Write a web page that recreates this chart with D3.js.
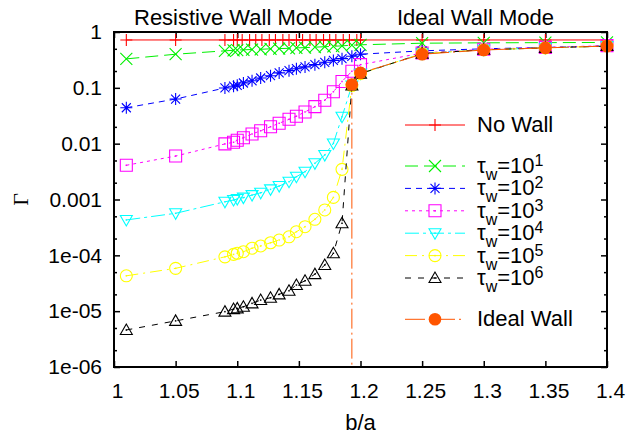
<!DOCTYPE html>
<html><head><meta charset="utf-8">
<script src="https://cdn.jsdelivr.net/npm/d3@7"></script>
<style>
body{margin:0;background:#fff;}
svg text{font-family:"Liberation Sans",Arial,Helvetica,sans-serif;fill:#000;}
</style></head><body>
<svg id="chart" width="628" height="434"></svg>
<script>
// ---------------- data ----------------
const xTicks = [1, 1.05, 1.1, 1.15, 1.2, 1.25, 1.3, 1.35, 1.4];
const xTickLabels = ["1", "1.05", "1.1", "1.15", "1.2", "1.25", "1.3", "1.35", "1.4"];
const yTicks = [1, 0.1, 0.01, 0.001, 1e-4, 1e-5, 1e-6];
const yTickLabels = ["1", "0.1", "0.01", "0.001", "1e-04", "1e-05", "1e-06"];
const yMinorTicks = [0.5, 0.2, 0.05, 0.02, 0.005, 0.002, 5e-4, 2e-4, 5e-5, 2e-5, 5e-6, 2e-6];

const xNoWall = [1.01, 1.05, 1.09, 1.097, 1.1, 1.104, 1.11, 1.115, 1.12, 1.126, 1.131, 1.137, 1.142, 1.148, 1.153, 1.159, 1.164, 1.17, 1.175, 1.18, 1.186, 1.191, 1.197, 1.2, 1.25, 1.3, 1.35, 1.4];
const gNoWall = [0.72, 0.72, 0.72, 0.72, 0.72, 0.72, 0.72, 0.72, 0.72, 0.72, 0.72, 0.72, 0.72, 0.72, 0.72, 0.72, 0.72, 0.72, 0.72, 0.72, 0.72, 0.72, 0.72, 0.72, 0.72, 0.72, 0.72, 0.72];

const xRes = [1.01, 1.05, 1.09, 1.097, 1.1, 1.105, 1.112, 1.119, 1.127, 1.134, 1.142, 1.148, 1.155, 1.163, 1.171, 1.178, 1.185, 1.193, 1.2, 1.25, 1.3, 1.35, 1.4];
const gTau1 = [0.33, 0.40, 0.46, 0.47, 0.475, 0.48, 0.485, 0.49, 0.50, 0.505, 0.51, 0.52, 0.525, 0.535, 0.545, 0.555, 0.565, 0.58, 0.59, 0.63, 0.64, 0.645, 0.65];
const gTau2 = [0.044, 0.063, 0.0995, 0.107, 0.111, 0.122, 0.134, 0.150, 0.165, 0.185, 0.203, 0.22, 0.237, 0.26, 0.287, 0.31, 0.333, 0.367, 0.40, 0.46, 0.50, 0.53, 0.56];
const gTau3 = [0.0041, 0.006, 0.0099, 0.0106, 0.0115, 0.0128, 0.0149, 0.017, 0.0201, 0.0232, 0.0273, 0.031, 0.037, 0.046, 0.06, 0.085, 0.13, 0.198, 0.26, 0.42, 0.49, 0.53, 0.57];
const gTau4 = [4.3e-4, 5.66e-4, 9.1e-4, 9.8e-4, 1.02e-3, 1.08e-3, 1.2e-3, 1.32e-3, 1.52e-3, 1.74e-3, 2.08e-3, 2.56e-3, 3.15e-3, 4.45e-3, 6.26e-3, 0.0101, 0.0304, 0.11, 0.18, 0.41, 0.48, 0.52, 0.56];
const gTau5 = [4.3e-5, 5.85e-5, 9.4e-5, 1.04e-4, 1.09e-4, 1.16e-4, 1.34e-4, 1.47e-4, 1.68e-4, 1.88e-4, 2.15e-4, 2.65e-4, 3.26e-4, 4.42e-4, 6.5e-4, 1.09e-3, 3.47e-3, 0.11, 0.18, 0.41, 0.48, 0.52, 0.56];
const gTau6 = [4.6e-6, 6.7e-6, 9.8e-6, 1.09e-5, 1.12e-5, 1.2e-5, 1.38e-5, 1.58e-5, 1.74e-5, 2.0e-5, 2.32e-5, 2.94e-5, 3.5e-5, 4.6e-5, 6.7e-5, 1.09e-4, 3.75e-4, 0.11, 0.18, 0.41, 0.48, 0.52, 0.56];

const xIdeal = [1.193, 1.193, 1.2, 1.25, 1.3, 1.35, 1.4];
const gIdeal = [1e-8, 0.115, 0.185, 0.40, 0.476, 0.52, 0.56];

const tauExponents = ["1", "2", "3", "4", "5", "6"];
const titles = ["Resistive Wall Mode", "Ideal Wall Mode"];

// ---------------- layout ----------------
const W = 628, H = 434;
const M = {l: 114, r: 607, t: 32, b: 367};
const x = d3.scaleLinear().domain([1, 1.4]).range([M.l, M.r]);
const y = d3.scaleLog().domain([1e-6, 1]).range([M.b, M.t]);
const FONT = '"Liberation Sans", Arial, Helvetica, sans-serif';

const svg = d3.select("#chart");
svg.append("rect").attr("width", W).attr("height", H).attr("fill", "#fff");
svg.append("defs").append("clipPath").attr("id", "clip")
  .append("rect").attr("x", M.l).attr("y", M.t).attr("width", M.r - M.l).attr("height", M.b - M.t);

// axes
function styleAxis(g) {
  g.select(".domain").remove();
  g.attr("font-family", FONT).attr("font-size", 21);
  g.selectAll(".tick line").attr("stroke", "#000").attr("stroke-width", 1.5);
  g.selectAll(".tick text").attr("fill", "#000");
}
const gxb = svg.append("g").attr("transform", `translate(0,${M.b})`)
  .call(d3.axisBottom(x).tickValues(xTicks).tickFormat((d, i) => xTickLabels[i]).tickSizeInner(-6).tickSizeOuter(0).tickPadding(16));
styleAxis(gxb); gxb.selectAll(".tick text").attr("dx", 3);
const gxt = svg.append("g").attr("transform", `translate(0,${M.t})`)
  .call(d3.axisTop(x).tickValues(xTicks).tickFormat("").tickSizeInner(-6).tickSizeOuter(0));
styleAxis(gxt);
const gyl = svg.append("g").attr("transform", `translate(${M.l},0)`)
  .call(d3.axisLeft(y).tickValues(yTicks).tickFormat((d, i) => yTickLabels[i]).tickSizeInner(-6).tickSizeOuter(0).tickPadding(12));
styleAxis(gyl);
const gylm = svg.append("g").attr("transform", `translate(${M.l},0)`)
  .call(d3.axisLeft(y).tickValues(yMinorTicks).tickFormat("").tickSizeInner(-3).tickSizeOuter(0));
styleAxis(gylm);
const gyr = svg.append("g").attr("transform", `translate(${M.r},0)`)
  .call(d3.axisRight(y).tickValues(yTicks).tickFormat("").tickSizeInner(-6).tickSizeOuter(0));
styleAxis(gyr);
const gyrm = svg.append("g").attr("transform", `translate(${M.r},0)`)
  .call(d3.axisRight(y).tickValues(yMinorTicks).tickFormat("").tickSizeInner(-3).tickSizeOuter(0));
styleAxis(gyrm);

// markers
function markerPath(type, s) {
  const t = s * 0.75;
  switch (type) {
    case "plus": return `M${-s},0H${s}M0,${-s}V${s}`;
    case "cross": return `M${-s},${-s}L${s},${s}M${-s},${s}L${s},${-s}`;
    case "star": return `M${-s},0H${s}M0,${-s}V${s}M${-t},${-t}L${t},${t}M${-t},${t}L${t},${-t}`;
    case "square": return `M${-s},${-s}H${s}V${s}H${-s}Z`;
    case "triDown": return `M0,${s}L${-s},${-s * 0.75}L${s},${-s * 0.75}Z`;
    case "triUp": return `M0,${-s}L${-s},${s * 0.75}L${s},${s * 0.75}Z`;
    case "circle": return `M${s},0A${s},${s},0,1,1,${-s},0A${s},${s},0,1,1,${s},0Z`;
  }
  return "";
}
function drawMarker(g, type, color, cx, cy) {
  if (type === "dot") {
    g.append("circle").attr("cx", cx).attr("cy", cy).attr("r", 6.3).attr("fill", color);
    return;
  }
  g.append("path").attr("d", markerPath(type, 6)).attr("transform", `translate(${cx},${cy})`)
    .attr("fill", "none").attr("stroke", color).attr("stroke-width", 1.1);
  if (["square", "triDown", "triUp", "circle"].includes(type)) {
    g.append("rect").attr("x", cx - 0.75).attr("y", cy - 0.75).attr("width", 1.5).attr("height", 1.5).attr("fill", color);
  }
}

const series = [
  {xs: xNoWall, ys: gNoWall, color: "#ff0000", dash: null, marker: "plus", label: "No Wall"},
  {xs: xRes, ys: gTau1, color: "#00f000", dash: "13,6", marker: "cross", exp: tauExponents[0]},
  {xs: xRes, ys: gTau2, color: "#0000ff", dash: "6,5", marker: "star", exp: tauExponents[1]},
  {xs: xRes, ys: gTau3, color: "#ff00ff", dash: "3,4", marker: "square", exp: tauExponents[2]},
  {xs: xRes, ys: gTau4, color: "#00ffff", dash: "14,4,3,4", marker: "triDown", exp: tauExponents[3]},
  {xs: xRes, ys: gTau5, color: "#ffff00", dash: "12,5,2,5", marker: "circle", exp: tauExponents[4]},
  {xs: xRes, ys: gTau6, color: "#000000", dash: "6,7", marker: "triUp", exp: tauExponents[5]},
  {xs: xIdeal, ys: gIdeal, color: "#ff5500", dash: "20,4,2,4", marker: "dot", label: "Ideal Wall"}
];

const line = d3.line().x(d => x(d[0])).y(d => y(d[1]));
const plotG = svg.append("g");
series.forEach(s => {
  const pts = s.xs.map((v, i) => [v, s.ys[i]]);
  plotG.append("path").datum(pts).attr("d", line).attr("clip-path", "url(#clip)")
    .attr("fill", "none").attr("stroke", s.color).attr("stroke-width", 1)
    .attr("stroke-dasharray", s.dash);
  const mg = plotG.append("g");
  pts.filter(p => p[1] >= 1e-6 && p[1] <= 1).forEach(p => drawMarker(mg, s.marker, s.color, x(p[0]), y(p[1])));
});

// frame
svg.append("rect").attr("x", M.l).attr("y", M.t).attr("width", M.r - M.l).attr("height", M.b - M.t)
  .attr("fill", "none").attr("stroke", "#000").attr("stroke-width", 2);

// legend
const legRows = [125, 166, 188.4, 210.8, 233.2, 255.6, 278, 319.3];
const leg = svg.append("g");
series.forEach((s, i) => {
  const ry = legRows[i];
  leg.append("line").attr("x1", 405).attr("x2", 465).attr("y1", ry).attr("y2", ry)
    .attr("stroke", s.color).attr("stroke-width", 1).attr("stroke-dasharray", s.dash);
  drawMarker(leg, s.marker, s.color, 435, ry);
  const t = leg.append("text").attr("x", 477).attr("y", ry + 7).attr("font-size", 22);
  if (s.label) {
    t.text(s.label);
  } else {
    t.append("tspan").text("τ");
    t.append("tspan").attr("dy", 7).attr("font-size", 16).text("w");
    t.append("tspan").attr("dy", -7).text("=10");
    t.append("tspan").attr("dy", -7).attr("font-size", 16).text(s.exp);
  }
});

// titles & axis labels
svg.append("text").attr("x", 134).attr("y", 25).attr("font-size", 22).text(titles[0]);
svg.append("text").attr("x", 397).attr("y", 25).attr("font-size", 22).text(titles[1]);
svg.append("text").attr("x", (M.l + M.r) / 2).attr("y", 430).attr("text-anchor", "middle").attr("font-size", 22).text("b/a");
svg.append("text").attr("transform", `translate(28,${(M.t + M.b) / 2}) rotate(-90)`).attr("text-anchor", "middle")
  .attr("font-size", 22).style("font-family", '"Liberation Serif","DejaVu Serif",serif').text("Γ");
</script>
</body></html>
